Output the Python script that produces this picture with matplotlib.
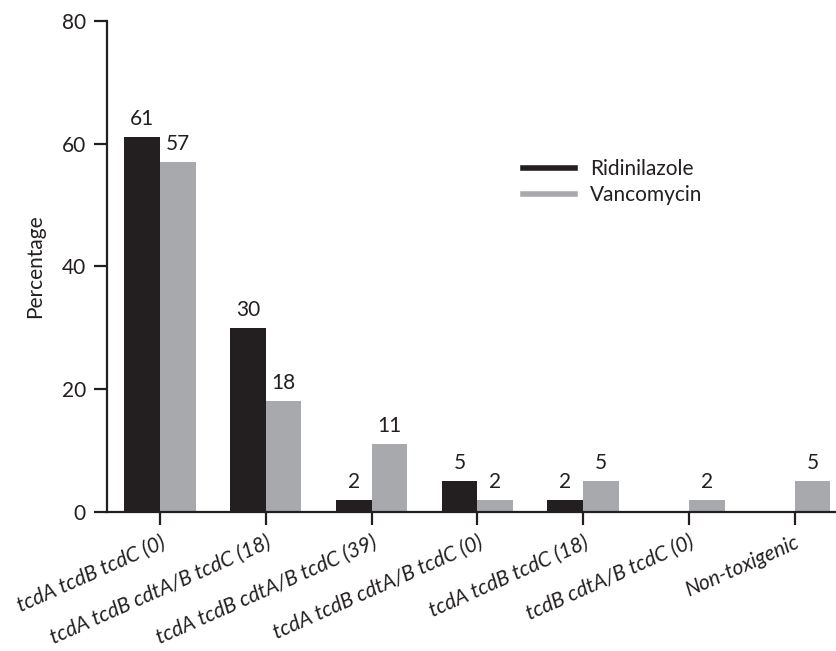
import matplotlib
matplotlib.use("Agg")
import matplotlib.pyplot as plt
import matplotlib.transforms as mtransforms
import numpy as np
from matplotlib.lines import Line2D

plt.rcParams['font.family'] = ['Lato', 'DejaVu Sans']

categories = ["tcdA tcdB tcdC (0)", "tcdA tcdB cdtA/B tcdC (18)", "tcdA tcdB cdtA/B tcdC (39)",
              "tcdA tcdB cdtA/B tcdC (0)", "tcdA tcdB tcdC (18)", "tcdB cdtA/B tcdC (0)",
              "Non-toxigenic"]
ridinilazole = [61, 30, 2, 5, 2, 0, 0]
vancomycin = [57, 18, 11, 2, 5, 2, 5]
series_names = ["Ridinilazole", "Vancomycin"]
yticks = [0, 20, 40, 60, 80]

black = "#231f20"
grey = "#a7a9ac"
fs = 15

fig = plt.figure(figsize=(8.37, 6.51), dpi=100)
ax = fig.add_axes([107.3/837, 1-512/651, 1-107.3/837, (512-20.7)/651])

x = np.arange(len(categories))
w = 0.337
b1 = ax.bar(x - w/2, ridinilazole, w, color=black, zorder=2)
b2 = ax.bar(x + w/2, vancomycin, w, color=grey, zorder=2)

for bars, vals in ((b1, ridinilazole), (b2, vancomycin)):
    for rect, v in zip(bars, vals):
        if v > 0:
            ax.text(rect.get_x() + rect.get_width()/2, v + 1.3, str(v),
                    ha='center', va='bottom', fontsize=fs, color=black)

ax.set_xlim(-0.498, 6.40)
ax.set_ylim(0, 80)
ax.set_yticks(yticks)
ax.set_xticks(x)
ax.set_xticklabels(categories, rotation=24, ha='right', rotation_mode='anchor',
                   fontsize=fs, style='italic', color=black)
offset = mtransforms.ScaledTranslation(6/100, 0, fig.dpi_scale_trans)
for lab in ax.get_xticklabels():
    lab.set_transform(lab.get_transform() + offset)
for sp in ['top', 'right']:
    ax.spines[sp].set_visible(False)
for sp in ['left', 'bottom']:
    ax.spines[sp].set_linewidth(1.6)
    ax.spines[sp].set_color(black)
ax.tick_params(axis='both', length=9.5, width=1.6, color=black, labelsize=fs, labelcolor=black)
ax.tick_params(axis='y', pad=6)
ax.tick_params(axis='x', pad=5)
ax.set_ylabel("Percentage", fontsize=fs, color=black, labelpad=12)

handles = [Line2D([0], [0], color=black, lw=4), Line2D([0], [0], color=grey, lw=4)]
fig.legend(handles, series_names, loc='upper left', bbox_to_anchor=(523/837, 1-159/651),
           frameon=False, fontsize=fs, handlelength=2.5, handletextpad=0.72,
           labelspacing=0.3, borderaxespad=0, borderpad=0, labelcolor=black)

fig.savefig("out.png", dpi=100)
